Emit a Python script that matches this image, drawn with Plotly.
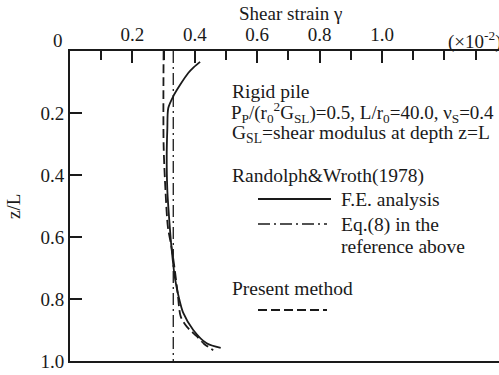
import plotly.graph_objects as go

# ---- data ----
fe_x = [0.417, 0.397, 0.379, 0.353, 0.331, 0.315, 0.312, 0.310, 0.312, 0.320, 0.326, 0.337, 0.350, 0.363, 0.395, 0.438, 0.483]
fe_z = [0.035, 0.052, 0.071, 0.109, 0.146, 0.184, 0.250, 0.335, 0.450, 0.570, 0.642, 0.737, 0.800, 0.845, 0.900, 0.943, 0.958]

pm_x = [0.300, 0.300, 0.306, 0.314, 0.325, 0.335, 0.345, 0.355, 0.375, 0.406, 0.430, 0.459]
pm_z = [0.000, 0.300, 0.450, 0.570, 0.630, 0.700, 0.780, 0.857, 0.890, 0.920, 0.945, 0.965]

eq8_x = [0.331, 0.331]
eq8_z = [0.0, 1.0]

x_tickvals = [0.2, 0.4, 0.6, 0.8, 1.0]
x_ticktext = ["0.2", "0.4", "0.6", "0.8", "1.0"]
y_tickvals = [0.2, 0.4, 0.6, 0.8, 1.0]
y_ticktext = ["0.2", "0.4", "0.6", "0.8", "1.0"]

W, H = 499, 375
L, T, B = 70, 51, 14
PW, PH = W - L, H - T - B

def px(xp):
    return (xp - L) / PW

def py(yp):
    return (H - B - yp) / PH

FONT = "Liberation Serif"
FS = 19.5
TFS = 19
BLACK = "#1a1a1a"

fig = go.Figure()
fig.add_trace(go.Scatter(x=eq8_x, y=eq8_z, mode="lines",
                         line=dict(color=BLACK, width=1.3, dash="12px,4px,2px,4px"),
                         showlegend=False))
fig.add_trace(go.Scatter(x=pm_x, y=pm_z, mode="lines",
                         line=dict(color=BLACK, width=1.8, dash="9px,4px", shape="spline", smoothing=0.8),
                         showlegend=False))
fig.add_trace(go.Scatter(x=fe_x, y=fe_z, mode="lines",
                         line=dict(color=BLACK, width=1.8, shape="spline", smoothing=0.8),
                         showlegend=False))

fig.update_layout(
    width=W, height=H,
    margin=dict(l=L, r=0, t=T, b=B),
    paper_bgcolor="white", plot_bgcolor="white",
    font=dict(family=FONT, size=FS, color=BLACK),
    xaxis=dict(side="top", range=[0, PW / 312.0], showgrid=False, zeroline=False,
               showline=True, linecolor=BLACK, linewidth=2, mirror=True,
               ticks="inside", ticklen=12, tickwidth=2, tickcolor=BLACK,
               tickvals=x_tickvals, ticktext=x_ticktext,
               minor=dict(ticks="inside", ticklen=9, tickwidth=2, tickcolor=BLACK, dtick=0.1, tick0=0),
               tickfont=dict(family=FONT, size=TFS)),
    yaxis=dict(range=[1.0, 0.0], showgrid=False, zeroline=False,
               showline=True, linecolor=BLACK, linewidth=2,
               ticks="inside", ticklen=12, tickwidth=2, tickcolor=BLACK,
               tickvals=y_tickvals, ticktext=y_ticktext,
               tickfont=dict(family=FONT, size=TFS)),
)

ann = []
def text(t, x, y, xanchor="left", size=FS, textangle=0):
    ann.append(dict(text=t, x=px(x), y=py(y), xref="paper", yref="paper",
                    xanchor=xanchor, yanchor="middle", showarrow=False,
                    textangle=textangle, font=dict(family=FONT, size=size, color=BLACK)))

text("0", 58, 40, "center", size=TFS)
text("(×10<sup>-2</sup>)", 446, 40, "left", size=TFS)
text("Shear strain γ", 290, 14, "center", size=TFS)
text("z/L", 14, 207, "center", size=TFS, textangle=-90)
text("Rigid pile", 230, 92)
text("P<sub>P</sub>/(r<sub>0</sub><sup>2</sup>G<sub>SL</sub>)=0.5, L/r<sub>0</sub>=40.0, ν<sub>S</sub>=0.4", 229, 113, size=19)
text("G<sub>SL</sub>=shear modulus at depth z=L", 230, 134)
text("Randolph&Wroth(1978)", 230, 176)
text("F.E. analysis", 339, 199)
text("Eq.(8) in the", 339, 225)
text("reference above", 339, 246)
text("Present method", 230, 288)
fig.update_layout(annotations=ann)

shapes = [
    dict(type="line", xref="paper", yref="paper", x0=px(258), x1=px(331), y0=py(199), y1=py(199),
         line=dict(color=BLACK, width=1.8)),
    dict(type="line", xref="paper", yref="paper", x0=px(258), x1=px(327), y0=py(224), y1=py(224),
         line=dict(color=BLACK, width=1.3, dash="12px,4px,2px,4px")),
    dict(type="line", xref="paper", yref="paper", x0=px(258), x1=px(327), y0=py(310), y1=py(310),
         line=dict(color=BLACK, width=1.8, dash="9px,4px")),
]
fig.update_layout(shapes=shapes)

fig.write_html("out.html")
